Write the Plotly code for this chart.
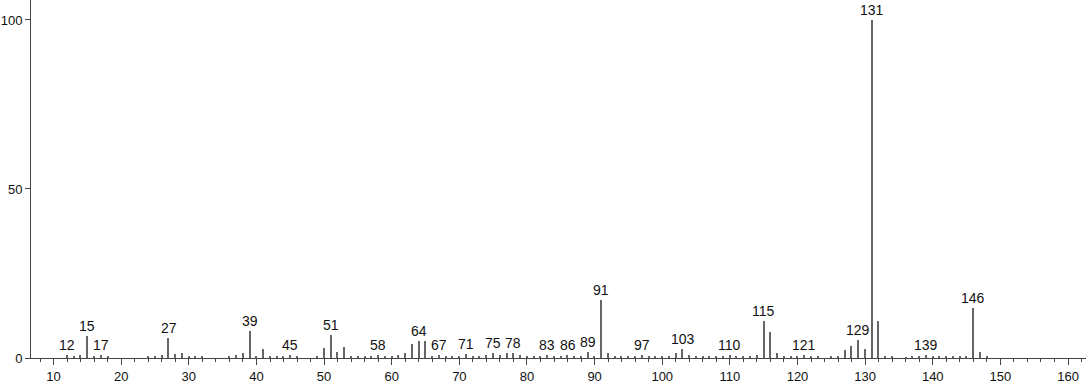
import plotly.graph_objects as go

# m/z values and relative intensities (%)
mz = [12, 13, 14, 15, 16, 17, 18,
      24, 25, 26, 27, 28, 29, 30, 31, 32,
      36, 37, 38, 39, 40, 41, 42, 43, 44, 45, 46,
      49, 50, 51, 52, 53, 54, 55, 56, 57, 58, 59,
      60, 61, 62, 63, 64, 65, 66, 67, 68, 69, 70, 71, 72, 73, 74, 75, 76, 77, 78, 79, 80,
      81, 82, 83, 84, 85, 86, 87, 88, 89, 90, 91, 92, 93, 94, 95, 96, 97, 98, 99, 100,
      101, 102, 103, 104, 105, 106, 107,
      108, 109, 110, 111, 112, 113, 114, 115, 116, 117, 118, 119, 120, 121, 122, 123,
      125, 126, 127, 128, 129, 130, 131, 132, 133, 134,
      136, 137, 138, 139, 140, 141, 142, 143, 144, 145, 146, 147, 148]
intensity = [1.0, 0.6, 0.8, 6.5, 0.5, 0.9, 0.5,
             0.3, 0.6, 0.9, 5.8, 1.3, 1.4, 0.4, 0.7, 0.4,
             0.3, 1.0, 1.6, 7.9, 0.5, 2.8, 0.7, 0.5, 0.5, 0.9, 0.3,
             0.6, 2.9, 6.9, 1.7, 3.4, 0.5, 0.6, 0.4, 0.7, 1.0, 0.4,
             0.4, 0.8, 1.6, 4.1, 5.1, 5.0, 0.7, 0.9, 0.5, 0.6, 0.4, 1.1, 0.4, 0.6, 1.0, 1.6, 0.8, 1.5, 1.6, 0.8, 0.3,
             0.5, 0.4, 0.8, 0.3, 0.5, 0.8, 0.6, 0.4, 1.8, 0.4, 17.1, 1.6, 0.6, 0.3, 0.5, 0.4, 0.9, 0.5, 0.4, 0.3,
             0.6, 1.6, 2.6, 0.9, 0.6, 0.3, 0.5,
             0.3, 0.5, 1.0, 0.5, 0.4, 0.5, 0.9, 10.9, 7.8, 1.6, 0.7, 0.5, 0.3, 0.9, 0.6, 0.3,
             0.4, 0.6, 2.4, 3.6, 5.4, 2.6, 100.0, 11.0, 0.5, 0.3,
             0.2, 0.4, 0.4, 0.8, 0.4, 0.5, 0.4, 0.5, 0.4, 0.5, 14.7, 1.8, 0.7]

labeled = [12, 15, 17, 27, 39, 45, 51, 58, 64, 67, 71, 75, 78, 83, 86, 89, 91,
           97, 103, 110, 115, 121, 129, 131, 139, 146]

x_ticks = [10, 20, 30, 40, 50, 60, 70, 80, 90, 100, 110, 120, 130, 140, 150, 160]
y_ticks = [0, 50, 100]

FONT = "Liberation Sans, Arial, sans-serif"

fig = go.Figure()
fig.add_trace(go.Bar(
    x=mz, y=intensity, width=0.2,
    marker=dict(color="#666666", line=dict(width=0)),
    hoverinfo="x+y",
))

lookup = dict(zip(mz, intensity))
for m in labeled:
    fig.add_annotation(
        x=m, y=lookup[m], text=str(m), showarrow=False,
        xanchor="center", yanchor="bottom", yshift=0,
        font=dict(family=FONT, size=14, color="#111111"),
    )

fig.update_layout(
    width=1092, height=384,
    margin=dict(l=31, r=6, t=0, b=24),
    paper_bgcolor="white", plot_bgcolor="white",
    showlegend=False, bargap=0,
    font=dict(family=FONT, size=13, color="#111111"),
)
fig.update_xaxes(
    range=[6.66, 162.66], tickvals=x_ticks, ticktext=[str(v) for v in x_ticks],
    ticks="outside", ticklen=6, tickwidth=1, tickcolor="#444444",
    showline=True, linecolor="#444444", linewidth=1,
    showgrid=False, zeroline=False,
    minor=dict(dtick=2, tick0=0, ticks="outside", ticklen=3, tickcolor="#444444", tickwidth=1, showgrid=False),
    tickfont=dict(family=FONT, size=13, color="#111111"),
)
fig.update_yaxes(
    range=[0, 105.9], tickvals=y_ticks, ticktext=[str(v) for v in y_ticks],
    ticks="outside", ticklen=5, tickwidth=1, tickcolor="#444444",
    showline=True, linecolor="#444444", linewidth=1,
    showgrid=False, zeroline=False,
    tickfont=dict(family=FONT, size=13, color="#111111"),
)

fig.write_html("out.html")
